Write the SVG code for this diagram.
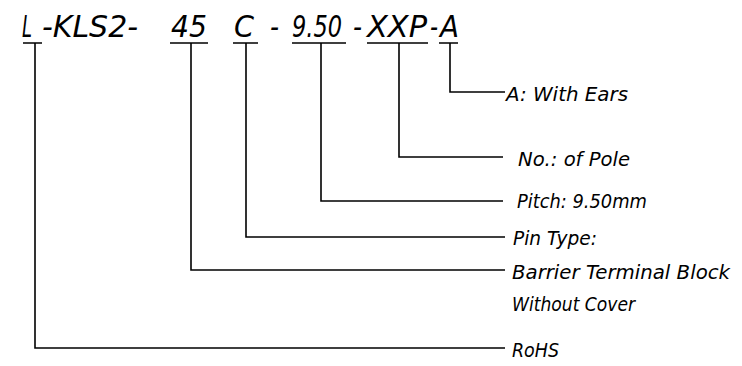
<svg xmlns="http://www.w3.org/2000/svg" width="742" height="366" viewBox="0 0 742 366">
<style>
.t{font-family:"DejaVu Sans","Liberation Sans",sans-serif;font-style:italic;font-stretch:condensed;fill:#000}
.big{font-size:30px}
.lab{font-size:20px}
.ln{stroke:#000;stroke-width:1.6;fill:none}
</style>
<rect width="742" height="366" fill="#fff"/>
<g id="code">
<text class="t big" y="37"><tspan x="22" textLength="10" lengthAdjust="spacingAndGlyphs">L</tspan><tspan x="42" textLength="96" lengthAdjust="spacingAndGlyphs">-KLS2-</tspan><tspan x="171" textLength="36" lengthAdjust="spacingAndGlyphs">45</tspan><tspan x="234" textLength="20" lengthAdjust="spacingAndGlyphs">C</tspan><tspan x="270" textLength="9" lengthAdjust="spacingAndGlyphs">-</tspan><tspan x="292" textLength="50" lengthAdjust="spacingAndGlyphs">9.50</tspan><tspan x="353" textLength="9" lengthAdjust="spacingAndGlyphs">-</tspan><tspan x="367" textLength="60" lengthAdjust="spacingAndGlyphs">XXP</tspan><tspan x="430" textLength="8" lengthAdjust="spacingAndGlyphs">-</tspan><tspan x="440" textLength="19" lengthAdjust="spacingAndGlyphs">A</tspan></text>
</g>
<g id="labels">
<text class="t lab" x="506" y="101" textLength="122" lengthAdjust="spacingAndGlyphs">A: With Ears</text>
<text class="t lab" x="518" y="166" textLength="112" lengthAdjust="spacingAndGlyphs">No.: of Pole</text>
<text class="t lab" x="517" y="208" textLength="130" lengthAdjust="spacingAndGlyphs">Pitch: 9.50mm</text>
<text class="t lab" x="513" y="245" textLength="84" lengthAdjust="spacingAndGlyphs">Pin Type:</text>
<text class="t lab" x="512" y="279" textLength="218" lengthAdjust="spacingAndGlyphs">Barrier Terminal Block</text>
<text class="t lab" x="512" y="311" textLength="123" lengthAdjust="spacingAndGlyphs">Without Cover</text>
<text class="t lab" x="512" y="357" textLength="47" lengthAdjust="spacingAndGlyphs">RoHS</text>
</g>
<g id="connectors" class="ln">
<path d="M23 43H42M35 43V348H505"/>
<path d="M170 43H208M191 43V270H505"/>
<path d="M233 43H258M246 43V237H505"/>
<path d="M292 43H346M321 43V201H503"/>
<path d="M367 43H428M399 43V157H503"/>
<path d="M439 43H458M450 43V92H505"/>
</g>
</svg>
